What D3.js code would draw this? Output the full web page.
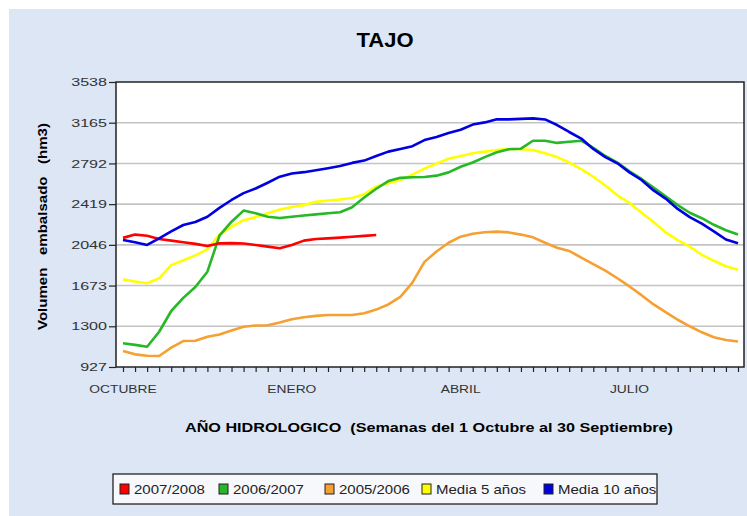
<!DOCTYPE html>
<html>
<head>
<meta charset="utf-8">
<script src="https://cdn.jsdelivr.net/npm/d3@7"></script>
<style>
  body { margin: 0; background: #fff; }
  svg { display: block; font-family: "Liberation Sans", Arial, sans-serif; }
</style>
</head>
<body>
<div id="chart"></div>
<script>
// weekly values, hm3 (week 0 = 1 Octubre)
var s2007_2008 = [2110, 2140, 2130, 2100, 2085, 2070, 2055, 2035, 2060, 2062, 2058, 2045,
  2030, 2015, 2045, 2085, 2100, 2105, 2112, 2120, 2128, 2136];
var s2006_2007 = [1144, 1130, 1113, 1250, 1440, 1560, 1660, 1800, 2130, 2258, 2360, 2335,
  2304, 2292, 2304, 2315, 2325, 2335, 2345, 2390, 2480, 2560, 2630, 2660, 2665, 2668,
  2680, 2710, 2762, 2800, 2850, 2895, 2922, 2927, 3000, 3000, 2980, 2990, 3000, 2935,
  2860, 2800, 2720, 2650, 2570, 2490, 2410, 2340, 2290, 2230, 2180, 2140];
var s2005_2006 = [1074, 1043, 1030, 1028, 1105, 1165, 1168, 1205, 1225, 1262, 1295, 1307,
  1309, 1335, 1365, 1383, 1395, 1403, 1403, 1403, 1420, 1453, 1500, 1570, 1700, 1890,
  1985, 2065, 2121, 2148, 2162, 2167, 2160, 2140, 2115, 2065, 2020, 1990, 1930, 1870,
  1810, 1740, 1665, 1585, 1500, 1430, 1360, 1300, 1245, 1200, 1175, 1160];
var media5 = [1730, 1710, 1694, 1740, 1860, 1905, 1950, 2005, 2140, 2212, 2272, 2300,
  2335, 2370, 2393, 2410, 2440, 2452, 2462, 2475, 2510, 2580, 2610, 2640, 2690, 2745,
  2790, 2835, 2860, 2885, 2900, 2915, 2925, 2922, 2915, 2885, 2850, 2800, 2740, 2670,
  2590, 2500, 2430, 2340, 2255, 2160, 2090, 2030, 1955, 1900, 1850, 1818];
var media10 = [2090, 2070, 2045, 2106, 2170, 2228, 2255, 2304, 2385, 2457, 2520, 2562,
  2615, 2671, 2700, 2712, 2730, 2748, 2768, 2797, 2818, 2860, 2900, 2925, 2950, 3006,
  3035, 3070, 3100, 3148, 3168, 3196, 3196, 3200, 3205, 3195, 3144, 3080, 3020, 2925,
  2850, 2793, 2710, 2640, 2545, 2470, 2375, 2300, 2240, 2170, 2095, 2060];

var seriesNames = ["2007/2008", "2006/2007", "2005/2006", "Media 5 años", "Media 10 años"];
var seriesColors = ["#ff0000", "#26b826", "#f5a030", "#ffff00", "#0000e0"];
var seriesValues = [s2007_2008, s2006_2007, s2005_2006, media5, media10];
// draw order: back to front
var drawOrder = [2, 3, 1, 0, 4];

var yTicks = [927, 1300, 1673, 2046, 2419, 2792, 3165, 3538];
var monthLabels = ["OCTUBRE", "ENERO", "ABRIL", "JULIO"];
var monthWeeks = [0, 14, 28, 42];
var nWeeks = 52;

var width = 747, height = 516;

var svg = d3.select("#chart").append("svg")
  .attr("width", width).attr("height", height);

// light blue panel
svg.append("rect")
  .attr("x", 9).attr("y", 9).attr("width", width - 9).attr("height", height - 9)
  .attr("fill", "#dce6f5");

var plot = { left: 116, top: 82, right: 744, bottom: 367 };

var x = d3.scaleLinear().domain([0, nWeeks - 1]).range([123, 738]);
var y = d3.scaleLinear().domain([927, 3538]).range([plot.bottom, plot.top]);

svg.append("rect")
  .attr("x", plot.left).attr("y", plot.top)
  .attr("width", plot.right - plot.left).attr("height", plot.bottom - plot.top)
  .attr("fill", "#fff");

// gridlines
svg.append("g")
  .selectAll("line")
  .data(yTicks.slice(1, -1))
  .enter().append("line")
  .attr("x1", plot.left).attr("x2", plot.right)
  .attr("y1", d => y(d)).attr("y2", d => y(d))
  .attr("stroke", "#c4c4c4").attr("stroke-width", 1.6);

// series
var line = d3.line()
  .x((d, i) => x(i))
  .y(d => y(d));

svg.append("g")
  .selectAll("path")
  .data(drawOrder)
  .enter().append("path")
  .attr("d", k => line(seriesValues[k]))
  .attr("fill", "none")
  .attr("stroke", k => seriesColors[k])
  .attr("stroke-width", 2.6)
  .attr("stroke-linejoin", "round");

// frame
svg.append("rect")
  .attr("x", plot.left).attr("y", plot.top)
  .attr("width", plot.right - plot.left).attr("height", plot.bottom - plot.top)
  .attr("fill", "none").attr("stroke", "#222").attr("stroke-width", 1.5);

// y axis (labels in the original are drawn wide, so stretch them)
var yAxis = d3.axisLeft(y).tickValues(yTicks).tickSize(7).tickPadding(2)
  .tickFormat(d3.format("d"));
var yg = svg.append("g").attr("transform", "translate(" + plot.left + ",0)").call(yAxis);
yg.select(".domain").remove();
yg.selectAll("line").attr("stroke", "#222").attr("stroke-width", 1.2);
yg.selectAll("text")
  .attr("x", 0)
  .attr("transform", "translate(-9,0) scale(1.4,1)")
  .attr("font-size", 11.5).attr("fill", "#333")
  .attr("font-family", "Liberation Sans, Arial, sans-serif");

// x axis: week ticks
var xAxis = d3.axisBottom(x).tickValues(d3.range(nWeeks)).tickSize(5).tickFormat("");
var xg = svg.append("g").attr("transform", "translate(0," + plot.bottom + ")").call(xAxis);
xg.select(".domain").remove();
xg.selectAll("line").attr("stroke", "#222").attr("stroke-width", 1.2);

svg.append("g")
  .selectAll("text")
  .data(monthLabels)
  .enter().append("text")
  .attr("transform", (d, i) => "translate(" + x(monthWeeks[i]) + ",393) scale(1.2,1)")
  .attr("text-anchor", "middle")
  .attr("font-size", 11.5).attr("fill", "#333")
  .text(d => d);

// titles
svg.append("text")
  .attr("transform", "translate(385,47) scale(1.1,1)")
  .attr("text-anchor", "middle")
  .attr("font-size", 20).attr("font-weight", "bold")
  .text("TAJO");

svg.append("text")
  .attr("x", 185).attr("y", 432)
  .attr("textLength", 488).attr("lengthAdjust", "spacingAndGlyphs")
  .attr("font-size", 13.5).attr("font-weight", "bold")
  .style("white-space", "pre")
  .text("AÑO HIDROLOGICO  (Semanas del 1 Octubre al 30 Septiembre)");

svg.append("text")
  .attr("transform", "translate(47,330) rotate(-90)")
  .attr("x", 0).attr("y", 0)
  .attr("textLength", 207).attr("lengthAdjust", "spacingAndGlyphs")
  .attr("font-size", 13.5).attr("font-weight", "bold")
  .style("white-space", "pre")
  .text("Volumen   embalsado   (hm3)");

// legend
svg.append("rect")
  .attr("x", 113).attr("y", 474).attr("width", 544).attr("height", 30)
  .attr("fill", "#f6f8fc").attr("stroke", "#222").attr("stroke-width", 1.3);

var legendX = [120, 219, 325, 422, 544];
var lg = svg.append("g").selectAll("g")
  .data(seriesNames)
  .enter().append("g")
  .attr("transform", (d, i) => "translate(" + legendX[i] + ",489)");
lg.append("rect")
  .attr("x", 0).attr("y", -5).attr("width", 9).attr("height", 10)
  .attr("fill", (d, i) => seriesColors[i])
  .attr("stroke", "#222").attr("stroke-width", 1);
lg.append("text")
  .attr("transform", "translate(14,4.5) scale(1.2,1)")
  .attr("font-size", 12.5).attr("fill", "#222")
  .text(d => d);
</script>
</body>
</html>
